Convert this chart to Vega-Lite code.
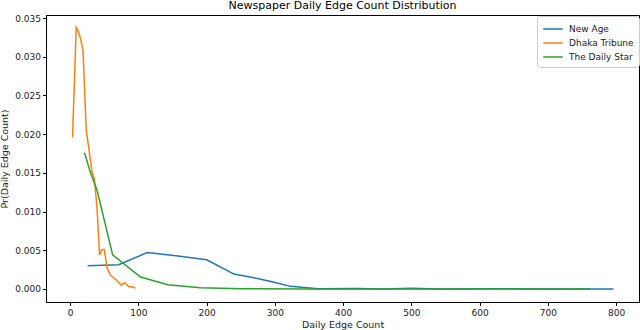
{
  "$schema": "https://vega.github.io/schema/vega-lite/v6.json",
  "width": 593,
  "height": 287,
  "autosize": {"type": "none"},
  "padding": {"left": 46, "top": 15, "right": 1, "bottom": 28},
  "background": "white",
  "title": {"text": "Newspaper Daily Edge Count Distribution", "font": "DejaVu Sans", "fontSize": 11, "fontWeight": "normal", "color": "#000", "offset": 3},
  "config": {
    "view": {"stroke": "#000", "strokeWidth": 1},
    "axis": {"labelFont": "DejaVu Sans", "titleFont": "DejaVu Sans", "labelFontSize": 9, "titleFontSize": 9.5, "titleFontWeight": "normal", "labelColor": "#222", "titleColor": "#222", "domainColor": "#000", "tickColor": "#000", "tickSize": 3.5, "grid": false}
  },
  "data": {"values": [
    {"paper": "New Age", "x": 25.5, "y": 0.0030},
    {"paper": "New Age", "x": 71, "y": 0.00313},
    {"paper": "New Age", "x": 112.8, "y": 0.0047},
    {"paper": "New Age", "x": 155, "y": 0.0043},
    {"paper": "New Age", "x": 200, "y": 0.00377},
    {"paper": "New Age", "x": 240, "y": 0.00193},
    {"paper": "New Age", "x": 267, "y": 0.00149},
    {"paper": "New Age", "x": 294, "y": 0.00098},
    {"paper": "New Age", "x": 323, "y": 0.00034},
    {"paper": "New Age", "x": 363, "y": 0.00004},
    {"paper": "New Age", "x": 420, "y": 0.00005},
    {"paper": "New Age", "x": 460, "y": 0.0},
    {"paper": "New Age", "x": 500, "y": 0.0001},
    {"paper": "New Age", "x": 540, "y": 0.0},
    {"paper": "New Age", "x": 620, "y": 0.00003},
    {"paper": "New Age", "x": 700, "y": 0.0},
    {"paper": "New Age", "x": 796, "y": 0.0},
    {"paper": "Dhaka Tribune", "x": 3.4, "y": 0.0196},
    {"paper": "Dhaka Tribune", "x": 8.8, "y": 0.0338},
    {"paper": "Dhaka Tribune", "x": 11.3, "y": 0.0334},
    {"paper": "Dhaka Tribune", "x": 14.7, "y": 0.0325},
    {"paper": "Dhaka Tribune", "x": 18.7, "y": 0.0309},
    {"paper": "Dhaka Tribune", "x": 23.5, "y": 0.0205},
    {"paper": "Dhaka Tribune", "x": 26.9, "y": 0.0184},
    {"paper": "Dhaka Tribune", "x": 31.9, "y": 0.0151},
    {"paper": "Dhaka Tribune", "x": 35.3, "y": 0.0143},
    {"paper": "Dhaka Tribune", "x": 39.2, "y": 0.0106},
    {"paper": "Dhaka Tribune", "x": 43.1, "y": 0.0044},
    {"paper": "Dhaka Tribune", "x": 46.6, "y": 0.0051},
    {"paper": "Dhaka Tribune", "x": 50, "y": 0.0051},
    {"paper": "Dhaka Tribune", "x": 54, "y": 0.0027},
    {"paper": "Dhaka Tribune", "x": 58.8, "y": 0.0018},
    {"paper": "Dhaka Tribune", "x": 66, "y": 0.0013},
    {"paper": "Dhaka Tribune", "x": 74.5, "y": 0.0005},
    {"paper": "Dhaka Tribune", "x": 79.9, "y": 0.0008},
    {"paper": "Dhaka Tribune", "x": 85.8, "y": 0.0003},
    {"paper": "Dhaka Tribune", "x": 90.7, "y": 0.0003},
    {"paper": "Dhaka Tribune", "x": 95.6, "y": 0.0001},
    {"paper": "The Daily Star", "x": 21, "y": 0.0176},
    {"paper": "The Daily Star", "x": 29.4, "y": 0.0151},
    {"paper": "The Daily Star", "x": 39.2, "y": 0.0128},
    {"paper": "The Daily Star", "x": 62.2, "y": 0.0044},
    {"paper": "The Daily Star", "x": 103, "y": 0.00154},
    {"paper": "The Daily Star", "x": 143, "y": 0.00055},
    {"paper": "The Daily Star", "x": 191, "y": 0.00017},
    {"paper": "The Daily Star", "x": 250, "y": 0.00004},
    {"paper": "The Daily Star", "x": 350, "y": 0.0},
    {"paper": "The Daily Star", "x": 500, "y": 0.0},
    {"paper": "The Daily Star", "x": 762, "y": 0.0}
  ]},
  "mark": {"type": "line", "strokeWidth": 1.5, "clip": true},
  "encoding": {
    "x": {"field": "x", "type": "quantitative", "title": "Daily Edge Count",
      "scale": {"domain": [-35.5, 833.5], "nice": false, "zero": false},
      "axis": {"values": [0, 100, 200, 300, 400, 500, 600, 700, 800], "format": "d", "titlePadding": 2, "labelPadding": 3}},
    "y": {"field": "y", "type": "quantitative", "title": "Pr(Daily Edge Count)",
      "scale": {"domain": [-0.00168, 0.0354], "nice": false, "zero": false},
      "axis": {"values": [0, 0.005, 0.01, 0.015, 0.02, 0.025, 0.03, 0.035], "format": ".3f", "titlePadding": 5, "labelPadding": 2}},
    "color": {"field": "paper", "type": "nominal",
      "scale": {"domain": ["New Age", "Dhaka Tribune", "The Daily Star"], "range": ["#1f77b4", "#ff7f0e", "#2ca02c"]},
      "legend": {"title": null, "orient": "none", "legendX": 491, "legendY": 1, "symbolType": "M-1.4,0H1.4", "symbolSize": 196, "symbolStrokeWidth": 1.5, "symbolOffset": 3,
        "labelFont": "DejaVu Sans", "labelFontSize": 9, "labelColor": "#222", "fillColor": "white", "strokeColor": "#ccc", "cornerRadius": 3, "padding": 5, "rowPadding": 1, "labelOffset": 8}}
  }
}
